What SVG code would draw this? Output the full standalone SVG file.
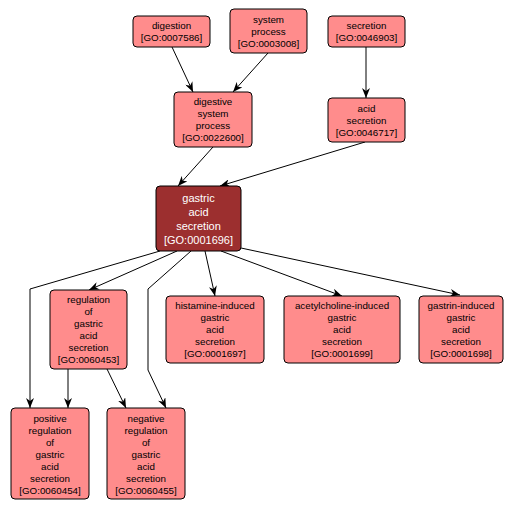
<svg xmlns="http://www.w3.org/2000/svg" width="514" height="509" viewBox="0 0 514 509">
<defs>
<style>
.n rect{fill:#ff8c8c;stroke:#000;stroke-width:1}
.n text{font-family:"Liberation Sans",Arial,sans-serif;font-size:9.8px;fill:#000;text-anchor:middle}
#GO0001696 rect{fill:#9c2f2f}
#GO0001696 text{fill:#fff;font-size:11px}
#edges path{fill:none;stroke:#000;stroke-width:1;marker-end:url(#ah)}
</style>
<marker id="ah" viewBox="0 0 10 8" refX="10" refY="4" markerWidth="10" markerHeight="8" markerUnits="userSpaceOnUse" orient="auto">
<path d="M0,0 L10,4 L0,8 L3,4 z" fill="#000"/>
</marker>
</defs>
<rect width="514" height="509" fill="#fff"/>
<g id="edges">
<path d="M172,47 L193,92"/>
<path d="M268,53 L233,92"/>
<path d="M366,47 L366,98"/>
<path d="M213,147 L178,186"/>
<path d="M365,142 L220,186"/>
<path d="M177,251 L89,290"/>
<path d="M160,251 L30,289 L30,408"/>
<path d="M191,251 L148,289 L148,370 L166,408"/>
<path d="M68,369 L68,408"/>
<path d="M107,369 L126,408"/>
<path d="M205,251 L215,296"/>
<path d="M221,251 L342,296"/>
<path d="M241,248 L460,295"/>
</g>
<g id="GO0007586" class="n"><rect x="133" y="16" width="77" height="31" rx="4"/><text x="171.5" y="29">digestion</text><text x="171.5" y="41">[GO:0007586]</text></g>
<g id="GO0003008" class="n"><rect x="230" y="9" width="77" height="44" rx="4"/><text x="268.5" y="22.5">system</text><text x="268.5" y="34.5">process</text><text x="268.5" y="46.5">[GO:0003008]</text></g>
<g id="GO0046903" class="n"><rect x="328" y="16" width="77" height="31" rx="4"/><text x="366.5" y="29">secretion</text><text x="366.5" y="41">[GO:0046903]</text></g>
<g id="GO0022600" class="n"><rect x="174" y="92" width="78" height="55" rx="4"/><text x="213" y="105">digestive</text><text x="213" y="117">system</text><text x="213" y="129">process</text><text x="213" y="141">[GO:0022600]</text></g>
<g id="GO0046717" class="n"><rect x="328" y="98" width="77" height="44" rx="4"/><text x="366.5" y="111.5">acid</text><text x="366.5" y="123.5">secretion</text><text x="366.5" y="135.5">[GO:0046717]</text></g>
<g id="GO0001696" class="n"><rect x="156" y="186" width="85" height="65" rx="4"/><text x="198.5" y="202">gastric</text><text x="198.5" y="216">acid</text><text x="198.5" y="230">secretion</text><text x="198.5" y="244">[GO:0001696]</text></g>
<g id="GO0060453" class="n"><rect x="50" y="290" width="77" height="79" rx="4"/><text x="88.5" y="303">regulation</text><text x="88.5" y="315">of</text><text x="88.5" y="327">gastric</text><text x="88.5" y="339">acid</text><text x="88.5" y="351">secretion</text><text x="88.5" y="363">[GO:0060453]</text></g>
<g id="GO0001697" class="n"><rect x="166" y="296" width="98" height="67" rx="4"/><text x="215" y="309">histamine-induced</text><text x="215" y="321">gastric</text><text x="215" y="333">acid</text><text x="215" y="345">secretion</text><text x="215" y="357">[GO:0001697]</text></g>
<g id="GO0001699" class="n"><rect x="284" y="296" width="116" height="67" rx="4"/><text x="342" y="309">acetylcholine-induced</text><text x="342" y="321">gastric</text><text x="342" y="333">acid</text><text x="342" y="345">secretion</text><text x="342" y="357">[GO:0001699]</text></g>
<g id="GO0001698" class="n"><rect x="419" y="296" width="84" height="67" rx="4"/><text x="461" y="309">gastrin-induced</text><text x="461" y="321">gastric</text><text x="461" y="333">acid</text><text x="461" y="345">secretion</text><text x="461" y="357">[GO:0001698]</text></g>
<g id="GO0060454" class="n"><rect x="11" y="408" width="78" height="91" rx="4"/><text x="50" y="422">positive</text><text x="50" y="434">regulation</text><text x="50" y="446">of</text><text x="50" y="458">gastric</text><text x="50" y="470">acid</text><text x="50" y="482">secretion</text><text x="50" y="494">[GO:0060454]</text></g>
<g id="GO0060455" class="n"><rect x="107" y="408" width="78" height="91" rx="4"/><text x="146" y="422">negative</text><text x="146" y="434">regulation</text><text x="146" y="446">of</text><text x="146" y="458">gastric</text><text x="146" y="470">acid</text><text x="146" y="482">secretion</text><text x="146" y="494">[GO:0060455]</text></g>
</svg>
